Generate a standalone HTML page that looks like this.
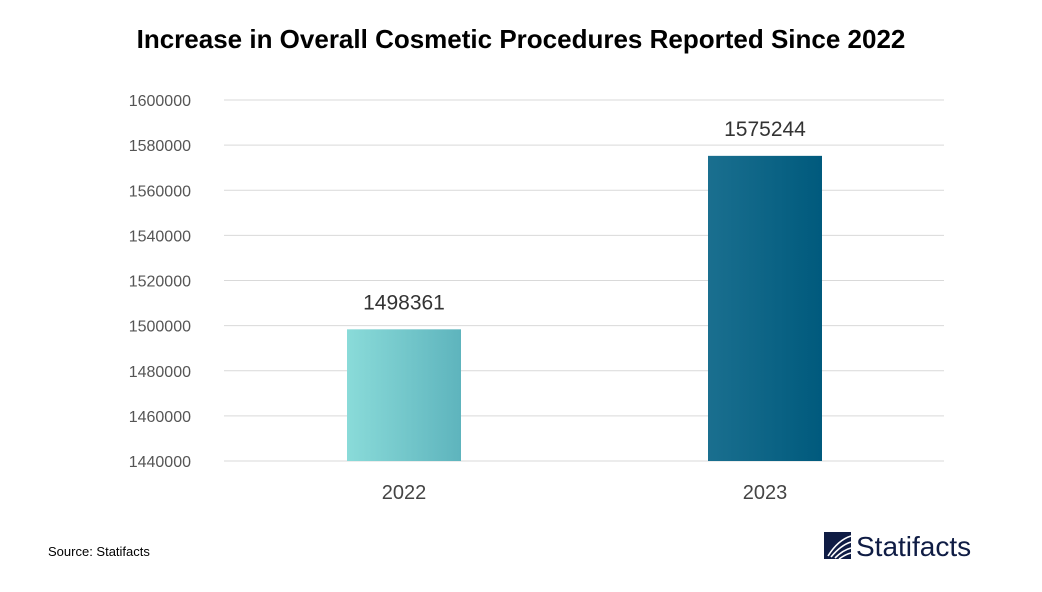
<!DOCTYPE html>
<html><head><meta charset="utf-8"><style>
body{margin:0;width:1042px;height:587px;background:#fff;font-family:"Liberation Sans",sans-serif;overflow:hidden}
</style></head><body>
<svg width="1042" height="587">
<defs>
<linearGradient id="g1" x1="0" x2="1"><stop offset="0" stop-color="#8adbd9"/><stop offset="1" stop-color="#5eb4bd"/></linearGradient>
<linearGradient id="g2" x1="0" x2="1"><stop offset="0" stop-color="#1a6f8f"/><stop offset="1" stop-color="#005a7d"/></linearGradient>
</defs>
<text x="521" y="48" text-anchor="middle" font-size="26" font-weight="bold" fill="#000">Increase in Overall Cosmetic Procedures Reported Since 2022</text>
<g id="grid"></g><g id="bars"></g>
<text x="48" y="556" font-size="13" fill="#000">Source: Statifacts</text>
<g>
<rect x="824" y="532" width="27" height="27" fill="#0f1c44"/>
<path d="M828 556 Q838 540 851 536 M831 557 Q841 545 851 542 M835 558 Q843 550 851 548 M839 559 Q846 554 851 553" stroke="#fff" stroke-width="1.6" fill="none"/>
<text x="856" y="556" font-size="28" fill="#0f1c44">Statifacts</text>
</g>
</svg>
<script>
const categories=["2022","2023"];
const values=[1498361,1575244];
const ticks=[1440000,1460000,1480000,1500000,1520000,1540000,1560000,1580000,1600000];
const yMin=1440000,yMax=1600000,y0=461,y1=100;
const y=v=>y0-(v-yMin)/(yMax-yMin)*(y0-y1);
const x=i=>404+i*361;
const NS="http://www.w3.org/2000/svg";
const grid=document.getElementById('grid'),bars=document.getElementById('bars');
function mk(t,a,p){const e=document.createElementNS(NS,t);for(const k in a)e.setAttribute(k,a[k]);p.appendChild(e);return e;}
ticks.forEach(t=>{
 const l=mk('line',{x1:224,x2:944,y1:y(t),y2:y(t),stroke:'#d9d9d9','stroke-width':1},grid);
 
 
 const tx=mk('text',{x:191,y:y(t)+6,'text-anchor':'end','font-size':16,fill:'#555'},grid);
 tx.textContent=t;
 
 
});
values.forEach((v,i)=>{
 const r=mk('rect',{x:x(i)-57,y:y(v),width:114,height:y0-y(v),fill:i?'url(#g2)':'url(#g1)'},bars);
 
 
 const lb=mk('text',{x:x(i),y:y(v)-20,'text-anchor':'middle','font-size':21,fill:'#333'},bars);
 lb.textContent=v;
 
 
 const c=mk('text',{x:x(i),y:499,'text-anchor':'middle','font-size':20,fill:'#444'},bars);
 c.textContent=categories[i];
 
 
});
</script>
</body></html>
